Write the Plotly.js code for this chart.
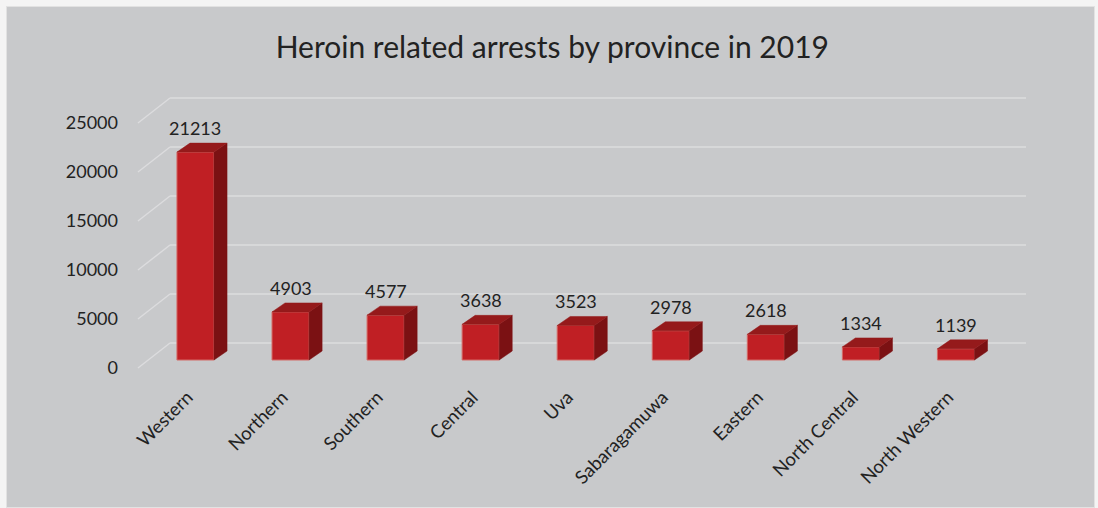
<!DOCTYPE html>
<html>
<head>
<meta charset="utf-8">
<script src="https://cdn.plot.ly/plotly-3.0.1.min.js"></script>
<style>
  html, body { margin: 0; padding: 0; background: #f4f4f4; }
  #frame { position: absolute; left: 6px; top: 6px; width: 1087px; height: 500px;
           background: #c8c9cb; border: 1px solid #e2e2e2; }
  #chart { position: absolute; left: 0; top: 0; width: 1098px; height: 508px; }
</style>
</head>
<body>
<div id="frame"></div>
<div id="chart"></div>
<script>
const provinces = ["Western", "Northern", "Southern", "Central", "Uva",
                   "Sabaragamuwa", "Eastern", "North Central", "North Western"];
const arrests = [21213, 4903, 4577, 3638, 3523, 2978, 2618, 1334, 1139];
const yTicks = [0, 5000, 10000, 15000, 20000, 25000];
const chartTitle = "Heroin related arrests by province in 2019";

// Pseudo-3D geometry (in axis units)
const barW = 0.39;          // front face width (category units)
const depthX = 0.137;       // bar depth, horizontal
const depthY = 918;         // bar depth, vertical (value units)
const gridBack = 1735;      // back wall offset (value units)
const labelFront = -816;    // front plane offset (value units)
const wallLeft = -0.268, wallRight = 8.737, floorLeft = -0.605;

const idx = provinces.map((_, i) => i);

// side and top faces
const sideX = [], sideY = [], topX = [], topY = [];
idx.forEach(i => {
  const v = arrests[i];
  const r = i + barW / 2, l = i - barW / 2;
  sideX.push(r, r + depthX, r + depthX, r, r, null);
  sideY.push(0, depthY, v + depthY, v, 0, null);
  topX.push(l, l + depthX, r + depthX, r, l, null);
  topY.push(v, v + depthY, v + depthY, v, v, null);
});

const traces = [
  { type: "bar", x: idx, y: arrests, width: barW,
    marker: { color: "#c01f24", line: { color: "#d46a66", width: 1 } },
    hoverinfo: "x+y", showlegend: false },
  { type: "scatter", mode: "lines", x: sideX, y: sideY, fill: "toself",
    fillcolor: "#7b1113", line: { color: "#7b1113", width: 0.5 },
    hoverinfo: "skip", showlegend: false },
  { type: "scatter", mode: "lines", x: topX, y: topY, fill: "toself",
    fillcolor: "#951a1b", line: { color: "#951a1b", width: 0.5 },
    hoverinfo: "skip", showlegend: false }
];

const gridColor = "#dcdcde";
const shapes = [];
yTicks.forEach(t => {
  shapes.push({ type: "line", layer: "below", xref: "x", yref: "y",
    x0: wallLeft, x1: wallRight, y0: t + gridBack, y1: t + gridBack,
    line: { color: gridColor, width: 1.5 } });
  shapes.push({ type: "line", layer: "below", xref: "x", yref: "y",
    x0: floorLeft, x1: wallLeft, y0: t + labelFront, y1: t + gridBack,
    line: { color: gridColor, width: 1.5 } });
});

const annotations = idx.map(i => ({
  x: i, y: arrests[i] + depthY, xref: "x", yref: "y",
  text: String(arrests[i]), showarrow: false, yanchor: "bottom", yshift: 2,
  font: { family: "Lato, 'Open Sans', sans-serif", size: 18, color: "#222" }
}));

const layout = {
  width: 1098, height: 508,
  paper_bgcolor: "rgba(0,0,0,0)", plot_bgcolor: "rgba(0,0,0,0)",
  margin: { l: 128, r: 58, t: 90, b: 130 },
  font: { family: "Lato, 'Open Sans', sans-serif", color: "#222" },
  title: { text: chartTitle, xref: "container", x: 0.503, yref: "container",
           y: 0.907, yanchor: "middle", xanchor: "center",
           font: { size: 30, color: "#222", family: "Lato, 'Open Sans', sans-serif" } },
  xaxis: { range: [-0.71, 8.884], tickvals: idx, ticktext: provinces,
           tickangle: -45, showgrid: false, zeroline: false, showline: false,
           ticks: "", ticklabelshift: -8, ticklabelstandoff: 4,
           tickfont: { size: 18.5, color: "#222" } },
  yaxis: { range: [-1837, 27551], tickvals: yTicks.map(t => t + labelFront),
           ticktext: yTicks.map(String), showgrid: false, zeroline: false,
           showline: false, ticks: "", ticklabelstandoff: 9,
           tickfont: { size: 18, color: "#222" } },
  shapes: shapes, annotations: annotations, bargap: 0
};

Plotly.newPlot("chart", traces, layout, { displayModeBar: false, staticPlot: true });
</script>
</body>
</html>
